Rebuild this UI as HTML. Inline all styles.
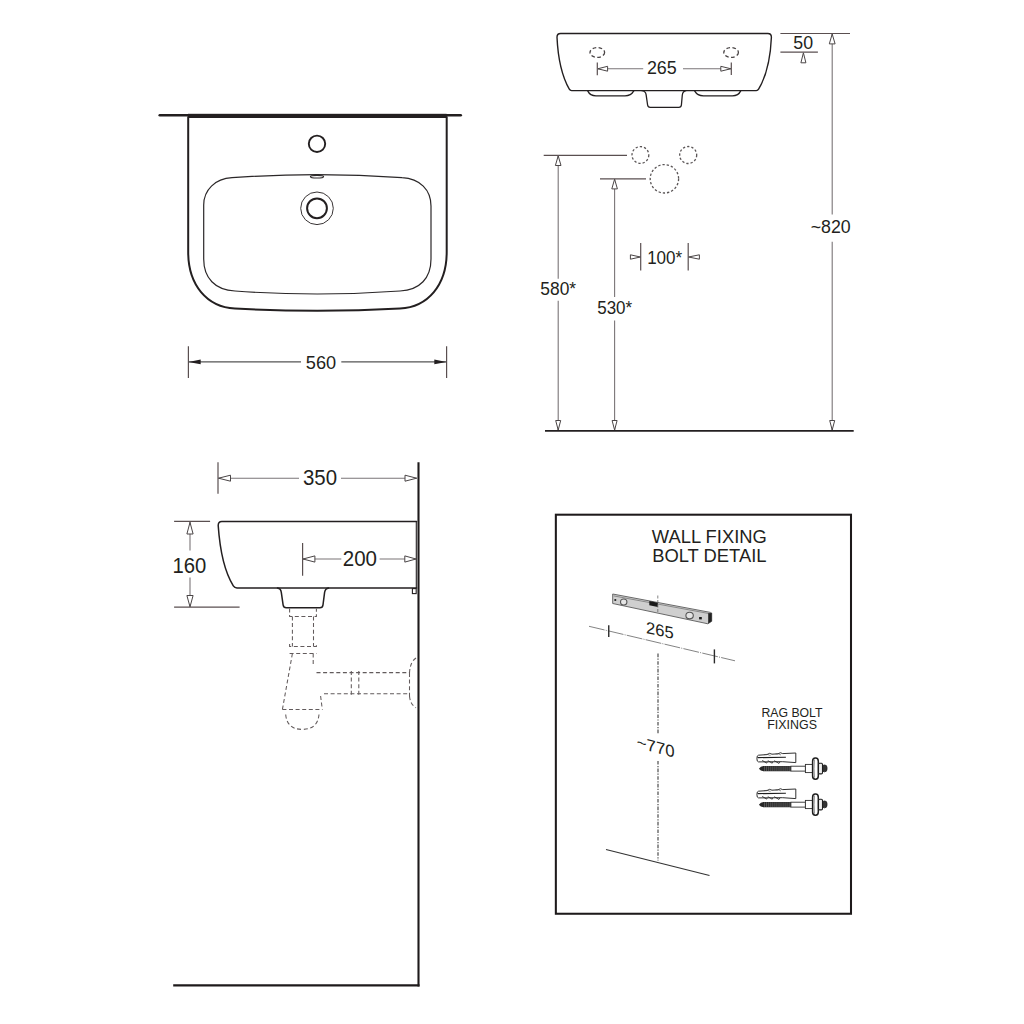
<!DOCTYPE html>
<html><head><meta charset="utf-8"><title>Basin technical drawing</title>
<style>
html,body{margin:0;padding:0;background:#fff;}
body{width:1024px;height:1024px;overflow:hidden;}
svg{display:block;}
text{font-family:"Liberation Sans",sans-serif;fill:#231f20;}
.o{fill:none;stroke:#231f20;stroke-width:2;stroke-linejoin:round;stroke-linecap:round;}
.t{fill:none;stroke:#2b2728;stroke-width:1.2;}
.d{fill:none;stroke:#7a7577;stroke-width:1.1;}
.e{fill:none;stroke:#5a4f50;stroke-width:1.2;}
.ah{fill:#fff;stroke:#4a4546;stroke-width:1;stroke-linejoin:miter;}
.af{fill:#231f20;stroke:none;}
.dash{fill:none;stroke:#625b5c;stroke-width:1.05;stroke-dasharray:4 2.6;}
</style></head>
<body>
<svg width="1024" height="1024" viewBox="0 0 1024 1024">
<rect width="1024" height="1024" fill="#fff"/>

<!-- ============ PLAN VIEW (top-left) ============ -->
<g id="plan">
  <!-- wall line -->
  <line x1="159.8" y1="115.25" x2="460.7" y2="115.25" stroke="#231f20" stroke-width="2.7" stroke-linecap="round"/>
  <rect x="188" y="113.8" width="258.6" height="4.2" fill="#231f20"/>
  <!-- outer basin -->
  <path class="o" d="M188.2,117 V252 C188.2,285 206.9,307 234.9,308.5 Q317.4,313 400,308.5 C428,307 446.7,285 446.7,252 V117"/>
  <!-- inner bowl -->
  <path class="t" d="M232,177.7 Q317,171.4 402,177.7 C420,178.6 431,190 431,206 V259 C431,278 420,290 400,291 Q317,297 235,291 C215,290 203.7,278 203.7,259 V205 C203.7,190 215,178.6 232,177.7 Z"/>
  <!-- tap hole -->
  <circle cx="317" cy="143.8" r="8.2" fill="none" stroke="#231f20" stroke-width="1.9"/>
  <!-- overflow -->
  <ellipse cx="317" cy="176.7" rx="6.6" ry="1.3" fill="none" stroke="#2f2b2c" stroke-width="1.15"/>
  <!-- drain -->
  <circle cx="317" cy="208.3" r="16.3" fill="none" stroke="#3a3536" stroke-width="1"/>
  <circle cx="317" cy="208.3" r="9.9" fill="none" stroke="#231f20" stroke-width="2"/>
  <!-- dim 560 -->
  <line class="e" x1="188.4" y1="346.2" x2="188.4" y2="377.9"/>
  <line class="e" x1="446.6" y1="346.2" x2="446.6" y2="377.9"/>
  <line x1="188.4" y1="361.9" x2="301" y2="361.9" stroke="#555" stroke-width="1.2"/>
  <line x1="341.3" y1="361.9" x2="446.6" y2="361.9" stroke="#555" stroke-width="1.2"/>
  <path class="af" d="M188.4,361.9 L200.7,359.6 L200.7,364.2 Z"/>
  <path class="af" d="M446.6,361.9 L434.3,359.6 L434.3,364.2 Z"/>
  <text font-size="18.05" transform="translate(305.85 368.78) scale(1.008 1)">560</text>
</g>

<!-- ============ FRONT ELEVATION (top-right) ============ -->
<g id="front">
  <path style="stroke-width:1.4" class="o" d="M560.6,33.5 H767.8 Q771.4,33.5 771.4,37.2 Q770,70 758.6,89.2 Q757.8,90.6 756.3,90.6 H571.6 Q570.1,90.6 569.3,89.2 Q558.5,70 557,37.2 Q557,33.5 560.6,33.5 Z"/>
  <!-- left foot -->
  <path style="stroke-width:1.3" class="o" d="M587.7,90.9 Q590,95.8 596,95.8 H625 Q631,95.8 633.8,90.9"/>
  <!-- right foot -->
  <path style="stroke-width:1.3" class="o" d="M694.6,90.9 Q697.4,95.8 703.4,95.8 H732.4 Q738.4,95.8 740.7,90.9"/>
  <!-- trap -->
  <path style="stroke-width:1.3" class="o" d="M641.8,90.7 Q645.6,91.2 646.1,94.6 L647.6,105 Q647.9,107.3 650.3,107.3 H678.8 Q681.2,107.3 681.4,105 L682.3,95 Q682.8,91.2 686,90.7"/>
  <!-- dashed holes -->
  <ellipse style="stroke-width:1.3;stroke-dasharray:3.6 2.4;stroke:#4a4546" class="dash" cx="597.3" cy="52.5" rx="7.3" ry="4.9"/>
  <ellipse style="stroke-width:1.3;stroke-dasharray:3.6 2.4;stroke:#4a4546" class="dash" cx="731.1" cy="52.5" rx="7.3" ry="4.9"/>
  <!-- dim 265 -->
  <line class="e" x1="597.3" y1="62.5" x2="597.3" y2="75.2"/>
  <line class="e" x1="731.3" y1="62.5" x2="731.3" y2="75"/>
  <line class="d" x1="597.3" y1="68.75" x2="643.2" y2="68.75"/>
  <line class="d" x1="683" y1="68.75" x2="731.3" y2="68.75"/>
  <path class="ah" d="M597.8,68.75 L607.6,66.3 L607.6,71.2 Z"/>
  <path class="ah" d="M730.8,68.75 L720.8,66.3 L720.8,71.2 Z"/>
  <text font-size="18.05" transform="translate(646.90 73.68) scale(0.992 1)">265</text>
  <!-- dim 50 -->
  <line class="e" x1="780.4" y1="33.5" x2="850" y2="33.5"/>
  <line class="e" x1="780.4" y1="52.2" x2="817.9" y2="52.2"/>
  <text font-size="18.05" transform="translate(793.35 49.43) scale(0.984 1)">50</text>
  <path class="ah" d="M803.4,52.8 L805.9,62.8 L800.9,62.8 Z"/>
  <!-- dim ~820 -->
  <line class="d" x1="832.2" y1="34" x2="832.2" y2="214.5"/>
  <line class="d" x1="832.2" y1="241.8" x2="832.2" y2="430"/>
  <path class="ah" d="M832.2,34 L835.1,43.9 L829.3,43.9 Z"/>
  <path class="ah" d="M832.2,430 L834.7,420.5 L829.7,420.5 Z"/>
  <text font-size="18.05" transform="translate(810.71 233.13) scale(0.985 1)">~820</text>
  <!-- dim 580* -->
  <line class="e" x1="543.7" y1="155.4" x2="627" y2="155.4"/>
  <line class="d" x1="558.2" y1="155.4" x2="558.2" y2="278.8"/>
  <line class="d" x1="558.2" y1="300.7" x2="558.2" y2="430"/>
  <path class="ah" d="M558.2,155.8 L561,165.5 L555.4,165.5 Z"/>
  <path class="ah" d="M558.2,430 L560.7,420.5 L555.7,420.5 Z"/>
  <text font-size="18.05" transform="translate(540.35 295.18) scale(0.963 1)">580*</text>
  <!-- dim 530* -->
  <line class="e" x1="600" y1="178.8" x2="646" y2="178.8"/>
  <line class="d" x1="614.6" y1="178.8" x2="614.6" y2="297"/>
  <line class="d" x1="614.6" y1="320.4" x2="614.6" y2="430"/>
  <path class="ah" d="M614.6,179.2 L617.4,188.9 L611.8,188.9 Z"/>
  <path class="ah" d="M614.6,430 L617.1,420.5 L612.1,420.5 Z"/>
  <text font-size="18.05" transform="translate(597.22 313.68) scale(0.942 1)">530*</text>
  <!-- dashed circles -->
  <circle style="stroke-width:1.3;stroke-dasharray:2.3 2;stroke:#5a5556" class="dash" cx="640.4" cy="155" r="8.4"/>
  <circle style="stroke-width:1.3;stroke-dasharray:2.3 2;stroke:#5a5556" class="dash" cx="688.2" cy="155" r="8.5"/>
  <circle style="stroke-width:1.3;stroke-dasharray:2.3 2;stroke:#5a5556" class="dash" cx="664.4" cy="178.8" r="14.2"/>
  <!-- dim 100* -->
  <line class="e" x1="640.7" y1="242.9" x2="640.7" y2="270.6"/>
  <line class="e" x1="688.2" y1="242.9" x2="688.2" y2="270.6"/>
  <path class="ah" d="M640.4,257 L630.4,254.8 L630.4,259.2 Z"/>
  <path class="ah" d="M688.5,257 L699.4,254.8 L699.4,259.2 Z"/>
  <text font-size="18.05" transform="translate(647.14 263.68) scale(0.944 1)">100*</text>
  <!-- floor -->
  <line x1="545" y1="430.8" x2="853.7" y2="430.8" stroke="#231f20" stroke-width="1.8"/>
</g>

<!-- ============ SIDE VIEW (bottom-left) ============ -->
<g id="side">
  <line x1="418.5" y1="462.3" x2="418.5" y2="986.5" stroke="#1e1a1b" stroke-width="2.1"/>
  <line x1="416.3" y1="521.5" x2="416.3" y2="588" stroke="#231f20" stroke-width="1.1"/>
  <line x1="173.2" y1="985.4" x2="419.5" y2="985.4" stroke="#1e1a1b" stroke-width="2.2"/>
  <!-- dim 350 -->
  <line class="e" x1="218" y1="462.3" x2="218" y2="493.8"/>
  <line class="d" x1="218" y1="478.2" x2="299" y2="478.2"/>
  <line class="d" x1="341" y1="478.2" x2="417" y2="478.2"/>
  <path class="ah" d="M218.5,478.2 L230.5,475.2 L230.5,481.2 Z"/>
  <path class="ah" d="M416.6,478.2 L405,475.2 L405,481.2 Z"/>
  <text font-size="21.20" transform="translate(302.98 484.76) scale(0.963 1)">350</text>
  <!-- basin -->
  <path style="stroke-width:1.5" class="o" d="M416.6,521.5 H221.8 Q218.2,521.5 218.2,525.5 Q221,566 233.3,585.8 Q234.6,587.9 237,587.9 H416.6"/>
  <path style="stroke-width:1.5" class="o" d="M277.5,588.1 Q280.8,588.6 281.3,592.3 L283.1,604.8 Q283.5,607.7 286.3,607.7 H319.9 Q322.7,607.7 323,604.8 L324.6,592.3 Q325.3,588.6 328.6,588.1"/>
  <rect x="412.4" y="588.6" width="3.8" height="5" fill="none" stroke="#231f20" stroke-width="1.1"/>
  <!-- dim 160 -->
  <line class="e" x1="174.1" y1="521.4" x2="210.1" y2="521.4"/>
  <line class="e" x1="174.1" y1="607.2" x2="239.6" y2="607.2"/>
  <line class="d" x1="190" y1="522" x2="190" y2="550.4"/>
  <line class="d" x1="190" y1="577.6" x2="190" y2="607"/>
  <path class="ah" d="M190,522.3 L193.1,534 L186.9,534 Z"/>
  <path class="ah" d="M190,606.8 L193.1,595.5 L186.9,595.5 Z"/>
  <text font-size="21.20" transform="translate(172.48 572.81) scale(0.956 1)">160</text>
  <!-- dim 200 -->
  <line class="e" x1="302.6" y1="543" x2="302.6" y2="575.8"/>
  <line class="d" x1="302.6" y1="559" x2="341.3" y2="559"/>
  <line class="d" x1="379.6" y1="559" x2="416" y2="559"/>
  <path class="ah" d="M303,559 L314.9,555.9 L314.9,562.1 Z"/>
  <path class="ah" d="M416,559 L404.8,555.9 L404.8,562.1 Z"/>
  <text font-size="21.20" transform="translate(342.77 565.51) scale(0.969 1)">200</text>
  <!-- dashed trap/pipe -->
  <g class="dash">
    <path d="M289.6,608.5 V616.5 H316.4 V608.5"/>
    <path d="M292.4,616.5 V646.4"/>
    <path d="M313.5,616.5 V646.4"/>
    <path d="M289.6,644 V646.4 H316.4 V644"/>
    <path d="M289.6,653.5 H316.4"/>
    <path d="M292.4,653.5 L282.4,709.5"/>
    <path d="M313.2,653.5 V666.3"/>
    <path d="M316.5,672.6 H409.5"/>
    <path d="M324,693.7 H409.5"/>
    <path d="M320.6,696 L322.3,709.5"/>
    <path d="M282.4,709.5 H322.3"/>
    <path d="M285.7,714.5 Q287,729.4 302.3,729.4 Q317.6,729.4 319,714.5"/>
    <path d="M351.3,671 V697"/>
    <path d="M358.8,671 V697"/>
    <path d="M409.5,673 V696"/>
    <path d="M416,658 Q410,662 409.5,673"/>
    <path d="M409.5,696 Q410,704 416,707.8"/>
  </g>
</g>

<!-- ============ WALL FIXING BOX (bottom-right) ============ -->
<g id="box">
  <rect x="555.85" y="514.7" width="295.15" height="399.05" fill="none" stroke="#1e1a1b" stroke-width="2.05"/>
  <text font-size="18.66" transform="translate(651.82 543.29) scale(0.985 1)">WALL FIXING</text>
  <text font-size="18.66" transform="translate(652.13 561.64) scale(0.986 1)">BOLT DETAIL</text>
  <!-- bar -->
  <path d="M612.7,594 L710.4,612.4 L711.7,613 L711.7,621.3 L707.9,623.8 L612.7,603.5 Z" fill="#cfcfcf" stroke="#5a5a5a" stroke-width="0.9"/>
  <line x1="613.7" y1="595.9" x2="709.2" y2="613.6" stroke="#6a6a6a" stroke-width="0.7"/>
  <path d="M708.2,613.3 L711.7,613 L711.7,621.3 L708.2,623.5 Z" fill="#222"/>
  <path d="M649.3,601.1 L657.8,602.7 L657.8,606.9 L649.3,605.3 Z" fill="#1a1a1a"/>
  <ellipse cx="623.7" cy="602" rx="3.2" ry="3.0" fill="#e4e4e4" stroke="#555" stroke-width="1.1"/>
  <ellipse cx="689.6" cy="615.6" rx="3.7" ry="3.3" fill="#e4e4e4" stroke="#555" stroke-width="1.1"/>
  <rect x="614.4" y="599.1" width="1.8" height="1.8" fill="#1a1a1a"/>
  <rect x="699.1" y="617" width="2.7" height="2.4" fill="#1a1a1a"/>
  <line x1="657.8" y1="595.5" x2="657.8" y2="612" stroke="#666" stroke-width="0.8" stroke-dasharray="3 1.5"/>
  <!-- dimension 265 sloped -->
  <line x1="589" y1="626.3" x2="735" y2="660.8" stroke="#7c7c7c" stroke-width="0.95" stroke-dasharray="16 1.2 1 1.2"/>
  <line x1="608.75" y1="625.2" x2="608.75" y2="636.9" stroke="#2a2a2a" stroke-width="1.4"/>
  <line x1="714.4" y1="649.4" x2="714.4" y2="663.4" stroke="#2a2a2a" stroke-width="1.4"/>
  <text x="0" y="0" font-size="16.6" text-anchor="middle" transform="translate(659.8 636.0) skewY(12)">265</text>
  <!-- vertical centre line -->
  <line x1="658" y1="653.6" x2="658" y2="733.5" stroke="#5a5a5a" stroke-width="1.3" stroke-dasharray="3.6 1.4 1.2 1.4"/>
  <line x1="658" y1="761" x2="658" y2="860.6" stroke="#5a5a5a" stroke-width="1.3" stroke-dasharray="3.6 1.4 1.2 1.4"/>
  <text x="0" y="0" font-size="16.8" text-anchor="middle" transform="translate(655.7 752.6) skewY(15)">~770</text>
  <!-- sloped floor -->
  <line x1="606" y1="849.5" x2="709.5" y2="875.5" stroke="#333" stroke-width="1.2"/>
  <!-- rag bolt text -->
  <text font-size="12.04" transform="translate(761.42 716.85) scale(1.019 1)">RAG BOLT</text>
  <text font-size="12.04" transform="translate(767.25 728.50) scale(1.033 1)">FIXINGS</text>
  <!-- bolts -->
  <g id="bolt1">
    <!-- plug -->
    <path d="M758.5,755.2 L767,754.6 Q769.5,752.3 772,754.2 L778,753.8 Q780.5,751.8 782.7,753.6 L795.8,753.0 L795.8,762.6 L782.7,761.7 L758.5,761.9 Q756.9,761.9 756.9,758.5 Q756.9,755.2 758.5,755.2 Z" fill="#fff" stroke="#262626" stroke-width="0.95" stroke-linejoin="round"/>
    <line x1="757.6" y1="757.6" x2="785.9" y2="757.3" stroke="#1e1e1e" stroke-width="1.15"/>
    <path d="M762.2,760.4 L766.6,763.1 L767.4,761.8 M767.8,760.6 L772.2,763.2 L773,761.8 M774.2,760.7 L779,763.4 L780,761.8" fill="none" stroke="#262626" stroke-width="0.85" stroke-linejoin="round"/>
    <path d="M764,754.6 Q768,753.6 770.5,755.6 M775.5,754 Q779,753.2 781,755" fill="none" stroke="#444" stroke-width="0.6"/>
    <!-- screw thread -->
    <path d="M758.9,768.7 Q760.5,766.3 763.5,766 L790.9,765.9 L790.9,771.3 L763.5,771.3 Q760.5,771 758.9,768.7 Z" fill="#262626"/>
    <path d="M764.6,766.2 V771 M766.6,766.2 V771 M768.7,766.2 V771 M770.8,766.2 V771 M772.8,766.2 V771 M774.9,766.2 V771 M776.9,766.2 V771 M779.0,766.2 V771 M781.0,766.2 V771 M783.1,766.2 V771 M785.1,766.2 V771 M787.1,766.2 V771 M789.2,766.2 V771" stroke="#8c8c8c" stroke-width="0.5"/>
    <rect x="790.9" y="766.2" width="14.5" height="4.9" fill="#fff" stroke="#2e2e2e" stroke-width="0.9"/>
    <rect x="805.4" y="764.4" width="7.9" height="8.2" fill="#fff" stroke="#2e2e2e" stroke-width="0.9"/>
    <rect x="812.6" y="758" width="5.7" height="21.2" rx="2.7" ry="3.2" fill="#fff" stroke="#1e1e1e" stroke-width="1.5"/>
    <path d="M814.4,759.5 Q813.6,768.6 814.4,777.7" fill="none" stroke="#666" stroke-width="0.8"/>
    <rect x="822" y="765" width="5" height="6.8" rx="2.3" ry="2.6" fill="#333" stroke="#1e1e1e" stroke-width="0.8"/>
    <rect x="818.5" y="763.3" width="4" height="10.6" rx="1.2" fill="#eee" stroke="#1e1e1e" stroke-width="1.1"/>
  </g>
  <g transform="translate(0,36)">
    <!-- plug -->
    <path d="M758.5,755.2 L767,754.6 Q769.5,752.3 772,754.2 L778,753.8 Q780.5,751.8 782.7,753.6 L795.8,753.0 L795.8,762.6 L782.7,761.7 L758.5,761.9 Q756.9,761.9 756.9,758.5 Q756.9,755.2 758.5,755.2 Z" fill="#fff" stroke="#262626" stroke-width="0.95" stroke-linejoin="round"/>
    <line x1="757.6" y1="757.6" x2="785.9" y2="757.3" stroke="#1e1e1e" stroke-width="1.15"/>
    <path d="M762.2,760.4 L766.6,763.1 L767.4,761.8 M767.8,760.6 L772.2,763.2 L773,761.8 M774.2,760.7 L779,763.4 L780,761.8" fill="none" stroke="#262626" stroke-width="0.85" stroke-linejoin="round"/>
    <path d="M764,754.6 Q768,753.6 770.5,755.6 M775.5,754 Q779,753.2 781,755" fill="none" stroke="#444" stroke-width="0.6"/>
    <!-- screw thread -->
    <path d="M758.9,768.7 Q760.5,766.3 763.5,766 L790.9,765.9 L790.9,771.3 L763.5,771.3 Q760.5,771 758.9,768.7 Z" fill="#262626"/>
    <path d="M764.6,766.2 V771 M766.6,766.2 V771 M768.7,766.2 V771 M770.8,766.2 V771 M772.8,766.2 V771 M774.9,766.2 V771 M776.9,766.2 V771 M779.0,766.2 V771 M781.0,766.2 V771 M783.1,766.2 V771 M785.1,766.2 V771 M787.1,766.2 V771 M789.2,766.2 V771" stroke="#8c8c8c" stroke-width="0.5"/>
    <rect x="790.9" y="766.2" width="14.5" height="4.9" fill="#fff" stroke="#2e2e2e" stroke-width="0.9"/>
    <rect x="805.4" y="764.4" width="7.9" height="8.2" fill="#fff" stroke="#2e2e2e" stroke-width="0.9"/>
    <rect x="812.6" y="758" width="5.7" height="21.2" rx="2.7" ry="3.2" fill="#fff" stroke="#1e1e1e" stroke-width="1.5"/>
    <path d="M814.4,759.5 Q813.6,768.6 814.4,777.7" fill="none" stroke="#666" stroke-width="0.8"/>
    <rect x="822" y="765" width="5" height="6.8" rx="2.3" ry="2.6" fill="#333" stroke="#1e1e1e" stroke-width="0.8"/>
    <rect x="818.5" y="763.3" width="4" height="10.6" rx="1.2" fill="#eee" stroke="#1e1e1e" stroke-width="1.1"/>
  </g>
</g>
</svg>
</body></html>
